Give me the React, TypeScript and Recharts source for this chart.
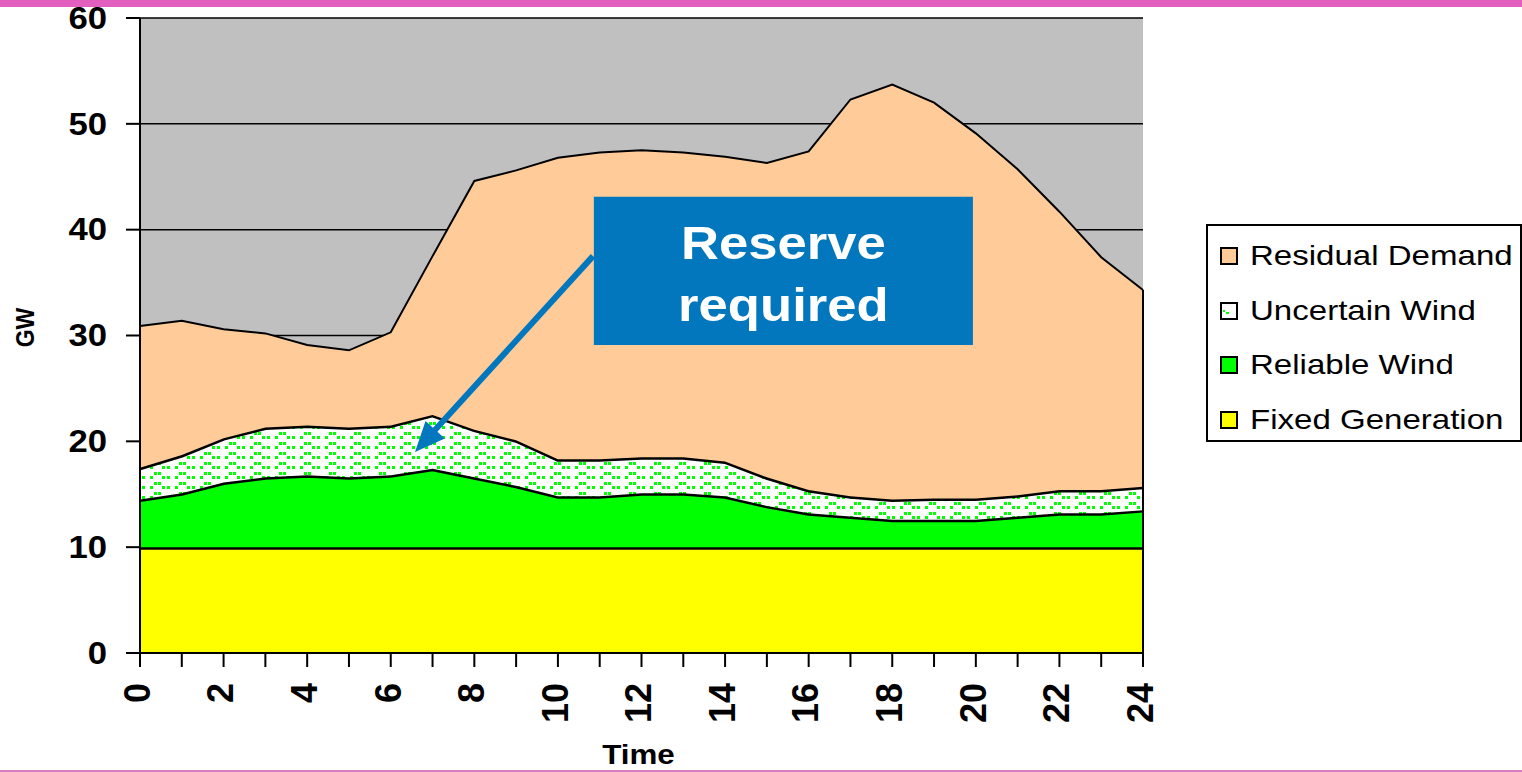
import { AreaChart, Area, XAxis, YAxis, CartesianGrid, ReferenceLine, ReferenceArea } from 'recharts';

const FONT = '"Liberation Sans", Arial, Helvetica, sans-serif';

// hourly generation stack, GW
const hours = [0, 1, 2, 3, 4, 5, 6, 7, 8, 9, 10, 11, 12, 13, 14, 15, 16, 17, 18, 19, 20, 21, 22, 23, 24];
const fixedGeneration = [10, 10, 10, 10, 10, 10, 10, 10, 10, 10, 10, 10, 10, 10, 10, 10, 10, 10, 10, 10, 10, 10, 10, 10, 10];
const reliableWind = [4.5, 5.1, 6.1, 6.6, 6.8, 6.6, 6.8, 7.4, 6.6, 5.8, 4.8, 4.8, 5.1, 5.1, 4.8, 3.9, 3.2, 2.9, 2.6, 2.6, 2.6, 2.9, 3.2, 3.2, 3.5];
const uncertainWind = [3.0, 3.6, 4.2, 4.7, 4.7, 4.7, 4.7, 5.1, 4.5, 4.3, 3.5, 3.5, 3.4, 3.4, 3.3, 2.7, 2.2, 1.9, 1.9, 2.0, 2.0, 2.0, 2.2, 2.2, 2.2];
const residualDemand = [13.4, 12.7, 10.3, 8.9, 7.6, 7.3, 8.8, 15.0, 23.5, 25.5, 28.5, 29.0, 29.0, 28.8, 28.8, 29.7, 32.0, 37.5, 39.2, 37.4, 34.5, 30.8, 26.3, 22.0, 18.6];
const gwTicks = [0, 10, 20, 30, 40, 50, 60];

const data = hours.map((hour, i) => ({
  hour,
  fixed: fixedGeneration[i],
  reliable: reliableWind[i],
  uncertain: uncertainWind[i],
  residual: residualDemand[i],
}));

const last = data[data.length - 1];
const lastTotal = last.fixed + last.reliable + last.uncertain + last.residual;

const series = [
  { key: 'fixed', name: 'Fixed Generation', fill: '#FFFF00' },
  { key: 'reliable', name: 'Reliable Wind', fill: '#00FF00' },
  { key: 'uncertain', name: 'Uncertain Wind', fill: 'url(#uncertainWave)' },
  { key: 'residual', name: 'Residual Demand', fill: '#FFCC99' },
];

// callout box and arrow, in (hour, GW)
const calloutBox = { x1: 10.86, x2: 19.93, y1: 29.1, y2: 43.1 };
const calloutArrow = [{ x: 10.84, y: 37.5 }, { x: 6.58, y: 19.0 }];
const CALLOUT_BLUE = '#0277BD';

function HourTick({ x, y, payload }: any) {
  if (payload.value % 2 !== 0) return <g />;
  return (
    <text
      transform={`translate(${x - 3},${y + 14}) scale(1.05,1) rotate(-90)`}
      textAnchor="end"
      dominantBaseline="central"
      fontFamily={FONT}
      fontWeight="bold"
      fontSize={36}
      fill="#000"
    >
      {payload.value}
    </text>
  );
}

function GwTick({ x, y, payload }: any) {
  return (
    <text
      transform={`translate(${x - 17},${y}) scale(1.12,1)`}
      textAnchor="end"
      dominantBaseline="central"
      fontFamily={FONT}
      fontWeight="bold"
      fontSize={31}
      fill="#000"
    >
      {payload.value}
    </text>
  );
}

function GwLabel({ viewBox }: any) {
  return (
    <text
      transform={`translate(25,${viewBox.y + viewBox.height / 2 - 8}) scale(1.12,1) rotate(-90)`}
      textAnchor="middle"
      dominantBaseline="central"
      fontFamily={FONT}
      fontWeight="bold"
      fontSize={23}
      fill="#000"
    >
      GW
    </text>
  );
}

function TimeLabel({ viewBox }: any) {
  return (
    <text
      transform={`translate(${viewBox.x + viewBox.width / 2 - 3},${viewBox.y + viewBox.height - 8}) scale(1.12,1)`}
      textAnchor="middle"
      fontFamily={FONT}
      fontWeight="bold"
      fontSize={28}
      fill="#000"
    >
      Time
    </text>
  );
}

function CalloutText({ viewBox }: any) {
  const cx = viewBox.x + viewBox.width / 2;
  const common = {
    textAnchor: 'middle' as const,
    fontFamily: FONT,
    fontWeight: 'bold',
    fontSize: 47,
    fill: '#fff',
  };
  return (
    <g>
      <text transform={`translate(${cx},${viewBox.y + 62}) scale(1.12,1)`} {...common}>Reserve</text>
      <text transform={`translate(${cx},${viewBox.y + 124}) scale(1.12,1)`} {...common}>required</text>
    </g>
  );
}

function ArrowShape({ x1, y1, x2, y2 }: any) {
  const dx = x2 - x1;
  const dy = y2 - y1;
  const len = Math.sqrt(dx * dx + dy * dy);
  const ux = dx / len;
  const uy = dy / len;
  const head = 30;
  const half = 13;
  const bx = x2 - ux * head;
  const by = y2 - uy * head;
  const pts = `${x2},${y2} ${bx - uy * half},${by + ux * half} ${bx + uy * half},${by - ux * half}`;
  return (
    <g>
      <line x1={x1} y1={y1} x2={bx + ux * 2} y2={by + uy * 2} stroke={CALLOUT_BLUE} strokeWidth={6} />
      <polygon points={pts} fill={CALLOUT_BLUE} />
    </g>
  );
}

function Swatch({ fill }: { fill: string }) {
  if (fill.startsWith('url')) {
    return (
      <svg width={18} height={18} style={{ display: 'block' }}>
        <rect x={1} y={1} width={16} height={16} fill="#fff" stroke="#000" strokeWidth={2} />
        <path d="M3 9 H5 M6 11 H9" stroke="#00FF00" strokeWidth={2} />
      </svg>
    );
  }
  return (
    <svg width={18} height={18} style={{ display: 'block' }}>
      <rect x={1} y={1} width={16} height={16} fill={fill} stroke="#000" strokeWidth={2} />
    </svg>
  );
}

function ChartLegend() {
  const rows = [...series].reverse();
  return (
    <div
      style={{
        position: 'absolute',
        left: 1206,
        top: 224,
        width: 316,
        height: 218,
        boxSizing: 'border-box',
        border: '2px solid #000',
        background: '#fff',
        fontFamily: FONT,
      }}
    >
      {rows.map((s, i) => (
        <div
          key={s.key}
          style={{ position: 'absolute', left: 12, top: 14 + i * 54.5, height: 32, display: 'flex', alignItems: 'center' }}
        >
          <Swatch fill={s.fill} />
          <span
            style={{
              marginLeft: 12,
              fontSize: 28,
              whiteSpace: 'nowrap',
              display: 'inline-block',
              transform: 'scaleX(1.18)',
              transformOrigin: 'left center',
            }}
          >
            {s.name}
          </span>
        </div>
      ))}
    </div>
  );
}

export default function App() {
  return (
    <div style={{ position: 'absolute', left: 0, top: 0, width: 1522, height: 772, background: '#fff', overflow: 'hidden' }}>
      <AreaChart width={1522} height={772} data={data} margin={{ top: 18, right: 379, bottom: 0, left: 0 }}>
        <defs>
          <pattern id="uncertainWave" patternUnits="userSpaceOnUse" width={25} height={10}>
            <rect width={25} height={10} fill="#fff" />
            <g fill="#00FF00">
              <rect x={0} y={6} width={3} height={3} />
              <rect x={4} y={2} width={3} height={3} />
              <rect x={8} y={2} width={3} height={3} />
              <rect x={12} y={6} width={3} height={3} />
              <rect x={17} y={6} width={3} height={3} />
            </g>
          </pattern>
        </defs>
        <CartesianGrid vertical={false} stroke="#000" strokeWidth={1.5} fill="#C0C0C0" />
        <XAxis
          dataKey="hour"
          type="number"
          domain={[0, 24]}
          ticks={hours}
          interval={0}
          tickSize={14}
          height={119}
          stroke="#000"
          strokeWidth={2}
          tick={<HourTick />}
          label={TimeLabel}
        />
        <YAxis
          domain={[0, 60]}
          ticks={gwTicks}
          tickSize={14}
          width={140}
          stroke="#000"
          strokeWidth={2}
          tick={<GwTick />}
          label={GwLabel}
        />
        {series.map((s) => (
          <Area
            key={s.key}
            type="linear"
            dataKey={s.key}
            name={s.name}
            stackId="gen"
            stroke="#000"
            strokeWidth={s.key === 'residual' ? 2 : 5}
            fill={s.fill}
            fillOpacity={1}
            dot={false}
            activeDot={false}
            isAnimationActive={false}
          />
        ))}
        <ReferenceLine
          segment={[{ x: 24, y: 0 }, { x: 24, y: lastTotal }]}
          stroke="#000"
          strokeWidth={2}
        />
        <ReferenceArea
          x1={calloutBox.x1}
          x2={calloutBox.x2}
          y1={calloutBox.y1}
          y2={calloutBox.y2}
          fill={CALLOUT_BLUE}
          fillOpacity={1}
          stroke="none"
          label={CalloutText}
        />
        <ReferenceLine segment={calloutArrow} shape={ArrowShape} />
      </AreaChart>
      <ChartLegend />
      <div style={{ position: 'absolute', left: 0, top: 0, width: 1522, height: 7, background: '#E25EBF' }} />
      <div style={{ position: 'absolute', left: 0, top: 770, width: 1522, height: 2, background: '#D77FC6' }} />
    </div>
  );
}
